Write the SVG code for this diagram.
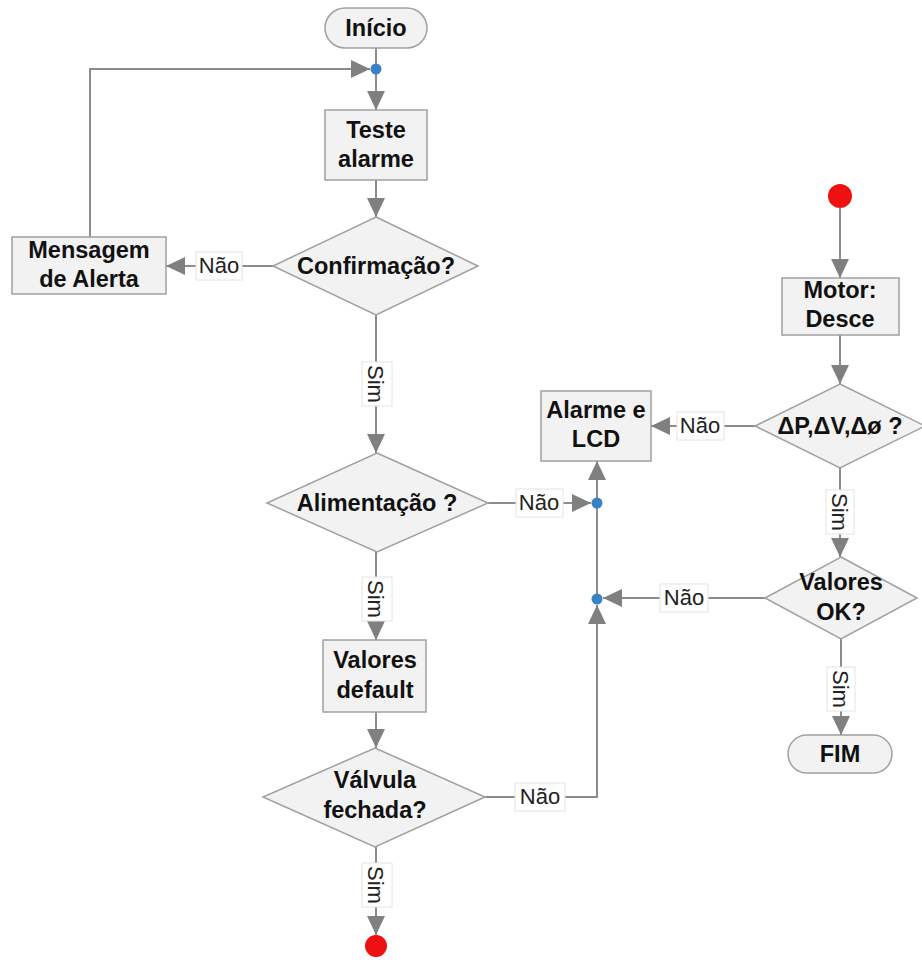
<svg xmlns="http://www.w3.org/2000/svg" width="922" height="963" viewBox="0 0 922 963">
<style>
.node{fill:#f2f2f2;stroke:#a0a0a0;stroke-width:1.5}
.t{font-family:"Liberation Sans",Arial,sans-serif;font-weight:bold;font-size:23.5px;fill:#111;text-anchor:middle}
.lbl{font-family:"Liberation Sans",Arial,sans-serif;font-size:22px;fill:#222;text-anchor:middle}
.lb{fill:#fff;stroke:#e4e4e4;stroke-width:1}
.c{fill:none;stroke:#8c8c8c;stroke-width:2}
.dot{fill:#3b7fc4}
.red{fill:#ee1111}
</style>
<defs>
<marker id="ah" markerUnits="userSpaceOnUse" markerWidth="20" markerHeight="20" viewBox="0 0 20 20" refX="19" refY="10" orient="auto">
<path d="M0,1 L19,10 L0,19 z" fill="#808080"/>
</marker>
</defs>
<g id="connectors">
<path class="c" d="M376,48 V69"/>
<path class="c" d="M376,69 V110" marker-end="url(#ah)"/>
<path class="c" d="M90,237 V69 H370" marker-end="url(#ah)"/>
<path class="c" d="M376,180 V217" marker-end="url(#ah)"/>
<path class="c" d="M273,266 H166" marker-end="url(#ah)"/>
<path class="c" d="M376,315 V453" marker-end="url(#ah)"/>
<path class="c" d="M488,503 H591" marker-end="url(#ah)"/>
<path class="c" d="M597,503 V461" marker-end="url(#ah)"/>
<path class="c" d="M597,599 V503"/>
<path class="c" d="M376,552 V640" marker-end="url(#ah)"/>
<path class="c" d="M376,712 V748" marker-end="url(#ah)"/>
<path class="c" d="M485,797 H597 V605" marker-end="url(#ah)"/>
<path class="c" d="M376,847 V935" marker-end="url(#ah)"/>
<path class="c" d="M840,208 V278" marker-end="url(#ah)"/>
<path class="c" d="M840,335 V384" marker-end="url(#ah)"/>
<path class="c" d="M755,426 H651" marker-end="url(#ah)"/>
<path class="c" d="M840,468 V557" marker-end="url(#ah)"/>
<path class="c" d="M765,598 H603" marker-end="url(#ah)"/>
<path class="c" d="M841,639 V735" marker-end="url(#ah)"/>
<circle class="dot" cx="376" cy="69" r="5.5"/>
<circle class="dot" cx="597" cy="503" r="5.5"/>
<circle class="dot" cx="597" cy="599" r="5.5"/>
<g id="labels">
<rect class="lb" x="196" y="252" width="46" height="28"/><text class="lbl" x="219" y="273">Não</text>
<rect class="lb" x="362" y="362" width="30" height="44"/><text class="lbl" transform="translate(376,384) rotate(90)" y="8">Sim</text>
<rect class="lb" x="516" y="489" width="47" height="28"/><text class="lbl" x="539" y="510">Não</text>
<rect class="lb" x="362" y="577" width="30" height="44"/><text class="lbl" transform="translate(376,599) rotate(90)" y="8">Sim</text>
<rect class="lb" x="515" y="783" width="50" height="28"/><text class="lbl" x="540" y="804">Não</text>
<rect class="lb" x="362" y="863" width="30" height="44"/><text class="lbl" transform="translate(376,885) rotate(90)" y="8">Sim</text>
<rect class="lb" x="677" y="412" width="47" height="28"/><text class="lbl" x="700" y="433">Não</text>
<rect class="lb" x="826" y="490" width="28" height="44"/><text class="lbl" transform="translate(840,512) rotate(90)" y="8">Sim</text>
<rect class="lb" x="660" y="584" width="48" height="28"/><text class="lbl" x="684" y="605">Não</text>
<rect class="lb" x="827" y="667" width="28" height="44"/><text class="lbl" transform="translate(841,689) rotate(90)" y="8">Sim</text>
</g>
</g>
<g id="inicio"><rect class="node" x="325" y="8" width="102" height="40" rx="20"/><text class="t" x="376" y="36">Início</text></g>
<g id="teste"><rect class="node" x="325" y="110" width="102" height="70"/><text class="t" x="376" y="138">Teste</text><text class="t" x="376" y="167">alarme</text></g>
<g id="confirmacao"><polygon class="node" points="376,217 478,266 376,315 273,266"/><text class="t" x="376" y="274">Confirmação?</text></g>
<g id="mensagem"><rect class="node" x="12" y="237" width="154" height="57"/><text class="t" x="89" y="258">Mensagem</text><text class="t" x="89" y="287">de Alerta</text></g>
<g id="alimentacao"><polygon class="node" points="377,453 488,503 377,552 267,503"/><text class="t" x="377" y="511">Alimentação ?</text></g>
<g id="default"><rect class="node" x="323" y="640" width="103" height="72"/><text class="t" x="375" y="668">Valores</text><text class="t" x="375" y="698">default</text></g>
<g id="valvula"><polygon class="node" points="375,748 485,797 375,847 263,797"/><text class="t" x="375" y="788">Válvula</text><text class="t" x="375" y="818">fechada?</text></g>
<g id="fim-valvula"><circle class="red" cx="376" cy="946" r="11"/></g>
<g id="inicio2"><circle class="red" cx="840" cy="196" r="12"/></g>
<g id="motor"><rect class="node" x="782" y="278" width="117" height="57"/><text class="t" x="840" y="298">Motor:</text><text class="t" x="840" y="327">Desce</text></g>
<g id="delta"><polygon class="node" points="840,384 925,426 840,468 755,426"/><text class="t" x="840" y="434">ΔP,ΔV,Δø ?</text></g>
<g id="alarme"><rect class="node" x="541" y="391" width="110" height="70"/><text class="t" x="596" y="418">Alarme e</text><text class="t" x="596" y="447">LCD</text></g>
<g id="valoresok"><polygon class="node" points="841,557 917,598 841,639 765,598"/><text class="t" x="841" y="590">Valores</text><text class="t" x="841" y="620">OK?</text></g>
<g id="fim"><rect class="node" x="788" y="735" width="104" height="38" rx="19"/><text class="t" x="840" y="762">FIM</text></g>
</svg>
